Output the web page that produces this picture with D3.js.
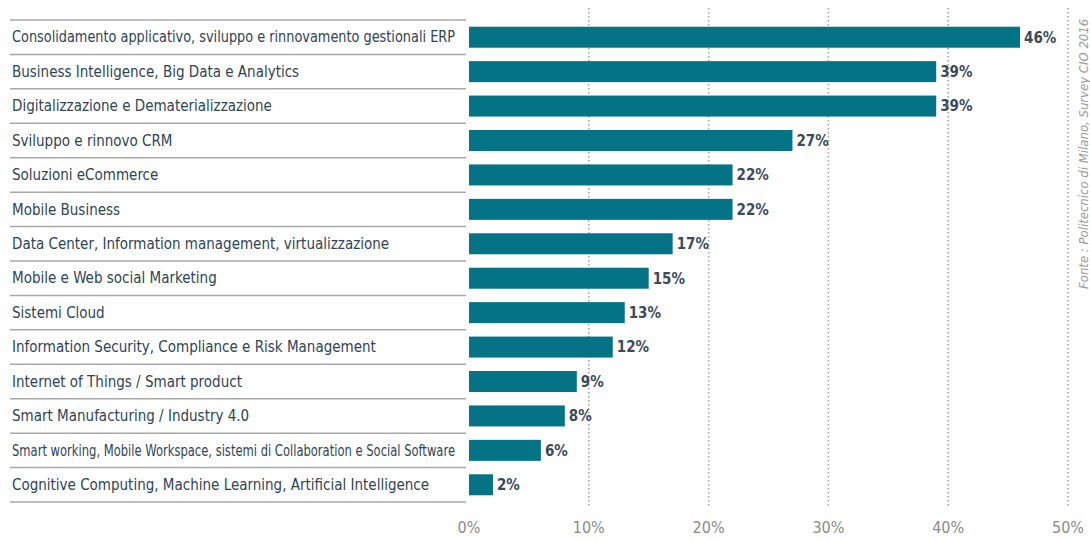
<!DOCTYPE html>
<html>
<head>
<meta charset="utf-8">
<script src="https://cdn.jsdelivr.net/npm/d3@7"></script>
<style>
  body { margin: 0; background: #fff; }
  svg { display: block; }
  .cat-label { font-family: "Liberation Sans Narrow", "DejaVu Sans Condensed", sans-serif; font-size: 15px; fill: #2e4456; }
  .val-label { font-family: "Liberation Sans Narrow", "DejaVu Sans Condensed", sans-serif; font-size: 15px; font-weight: bold; fill: #3b4b5a; }
  .tick-label { font-family: "Liberation Sans Narrow", "DejaVu Sans Condensed", sans-serif; font-size: 16px; fill: #8a8a8a; }
  .source { font-family: "Liberation Sans Narrow", "DejaVu Sans Condensed", sans-serif; font-size: 13px; font-style: italic; fill: #9a9a9a; }
</style>
</head>
<body>
<svg id="chart" width="1090" height="539"></svg>
<script>
// Categories, top to bottom
var categories = [
    'Consolidamento applicativo, sviluppo e rinnovamento gestionali ERP',
    'Business Intelligence, Big Data e Analytics',
    'Digitalizzazione e Dematerializzazione',
    'Sviluppo e rinnovo CRM',
    'Soluzioni eCommerce',
    'Mobile Business',
    'Data Center, Information management, virtualizzazione',
    'Mobile e Web social Marketing',
    'Sistemi Cloud',
    'Information Security, Compliance e Risk Management',
    'Internet of Things / Smart product',
    'Smart Manufacturing / Industry 4.0',
    'Smart working, Mobile Workspace, sistemi di Collaboration e Social Software',
    'Cognitive Computing, Machine Learning, Artificial Intelligence'
];

// Share of companies (%)
var values = [46, 39, 39, 27, 22, 22, 17, 15, 13, 12, 9, 8, 6, 2];

// x axis ticks (%)
var ticks = [0, 10, 20, 30, 40, 50];

var sourceText = 'Fonte : Politecnico di Milano, Survey CIO 2016';

var data = categories.map(function(c, i) {
    return {category: c, value: values[i]};
});

var svg = d3.select('#chart');

var xScale = d3.scaleLinear()
    .domain([0, 50])
    .range([469, 1068]);

var yScale = d3.scaleBand()
    .domain(categories)
    .range([20, 502])
    .paddingInner(0.39)
    .paddingOuter(0.195);

var step = yScale.step();

// dotted gridlines (behind bars)
svg.append('g')
    .selectAll('line')
    .data(ticks.filter(function(t) { return t > 0; }))
    .enter()
    .append('line')
    .attr('x1', function(d) { return xScale(d); })
    .attr('x2', function(d) { return xScale(d); })
    .attr('y1', 8)
    .attr('y2', 506)
    .attr('stroke', '#a0a0a0')
    .attr('stroke-width', 1.5)
    .attr('stroke-dasharray', '1.5,2.5');

// separator lines between category labels
svg.append('g')
    .selectAll('line')
    .data(d3.range(categories.length + 1))
    .enter()
    .append('line')
    .attr('x1', 10)
    .attr('x2', 466)
    .attr('y1', function(i) { return 20 + i * step; })
    .attr('y2', function(i) { return 20 + i * step; })
    .attr('stroke', '#a8a8a8')
    .attr('stroke-width', 1.5);

// category labels
var maxLabelWidth = 443;
svg.append('g')
    .selectAll('text')
    .data(data)
    .enter()
    .append('text')
    .attr('class', 'cat-label')
    .attr('x', 12)
    .attr('y', function(d) { return yScale(d.category) + yScale.bandwidth() / 2; })
    .attr('dy', '0.35em')
    .text(function(d) { return d.category; })
    .each(function() {
        if (this.getComputedTextLength() > maxLabelWidth) {
            d3.select(this)
                .attr('textLength', maxLabelWidth)
                .attr('lengthAdjust', 'spacingAndGlyphs');
        }
    });

// bars
svg.append('g')
    .selectAll('rect')
    .data(data)
    .enter()
    .append('rect')
    .attr('x', xScale(0))
    .attr('y', function(d) { return yScale(d.category); })
    .attr('width', function(d) { return xScale(d.value) - xScale(0); })
    .attr('height', yScale.bandwidth())
    .attr('fill', '#057386');

// value labels
svg.append('g')
    .selectAll('text')
    .data(data)
    .enter()
    .append('text')
    .attr('class', 'val-label')
    .attr('x', function(d) { return xScale(d.value) + 4; })
    .attr('y', function(d) { return yScale(d.category) + yScale.bandwidth() / 2; })
    .attr('dy', '0.36em')
    .text(function(d) { return d.value + '%'; });

// x axis tick labels
svg.append('g')
    .selectAll('text')
    .data(ticks)
    .enter()
    .append('text')
    .attr('class', 'tick-label')
    .attr('x', function(d) { return xScale(d); })
    .attr('y', 533)
    .attr('text-anchor', 'middle')
    .text(function(d) { return d + '%'; });

// rotated source note
svg.append('text')
    .attr('class', 'source')
    .attr('transform', 'translate(' + [1088, 289] + ') rotate(-90)')
    .text(sourceText);
</script>
</body>
</html>
